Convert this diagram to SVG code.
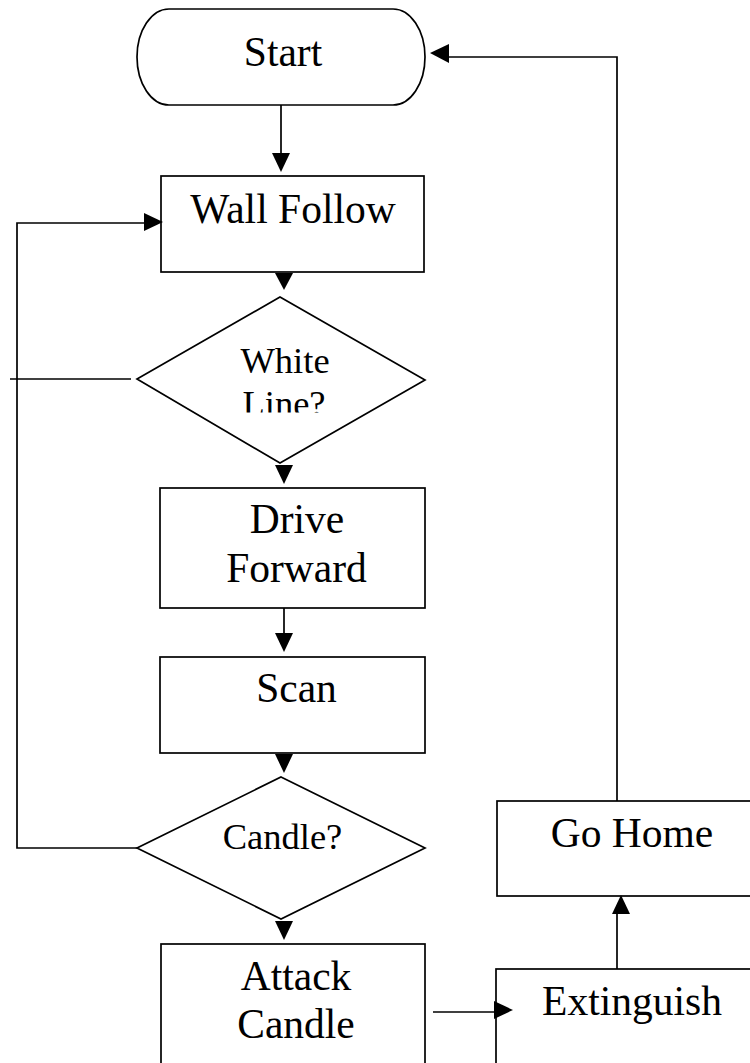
<svg xmlns="http://www.w3.org/2000/svg" width="750" height="1063" viewBox="0 0 750 1063">
<style>
.shape{fill:#fff;stroke:#000;stroke-width:1.7}
.line{fill:none;stroke:#000;stroke-width:1.7}
.ah{fill:#000;stroke:none}
.t{font-family:'Liberation Serif','Times New Roman',Times,'Nimbus Roman','DejaVu Serif','Noto Serif',serif;font-size:41.5px;fill:#000;text-anchor:middle}
.td{font-family:'Liberation Serif','Times New Roman',Times,'Nimbus Roman','DejaVu Serif','Noto Serif',serif;font-size:36.5px;fill:#000;text-anchor:middle}
</style>
<defs>
<clipPath id="clipLine"><rect x="0" y="0" width="750" height="412.5"/></clipPath>
</defs>
<rect width="750" height="1063" fill="#fff"/>
<g id="start">
<rect class="shape" x="137" y="9" width="288" height="96" rx="32" ry="48"/>
<text class="t" x="283" y="66">Start</text>
</g>
<g id="wall-follow">
<rect class="shape" x="161" y="176" width="263" height="96"/>
<text class="t" x="293" y="223">Wall Follow</text>
</g>
<g id="white-line">
<polygon class="shape" points="280,297 425,380 280,463 137,379"/>
<text class="td" x="285" y="373">White</text>
<text class="td" x="284" y="416" clip-path="url(#clipLine)">Line?</text>
</g>
<g id="drive-forward">
<rect class="shape" x="160" y="488" width="265" height="120"/>
<text class="t" x="297" y="533">Drive</text>
<text class="t" x="296.5" y="582">Forward</text>
</g>
<g id="scan">
<rect class="shape" x="160" y="657" width="265" height="96"/>
<text class="t" x="296.5" y="702">Scan</text>
</g>
<g id="candle">
<polygon class="shape" points="281,777 425,848 281,919 137,848"/>
<text class="td" x="282.5" y="849">Candle?</text>
</g>
<g id="attack-candle">
<rect class="shape" x="161" y="944" width="264" height="140"/>
<text class="t" x="296" y="990">Attack</text>
<text class="t" x="296" y="1038">Candle</text>
</g>
<g id="extinguish">
<rect class="shape" x="496" y="969" width="270" height="120"/>
<text class="t" x="632" y="1015">Extinguish</text>
</g>
<g id="go-home">
<rect class="shape" x="497" y="801" width="270" height="95"/>
<text class="t" x="632" y="847">Go Home</text>
</g>
<g id="connectors">
<line class="line" x1="281" y1="105" x2="281" y2="154"/>
<polygon class="ah" points="272,153 290,153 281,172"/>
<polygon class="ah" points="275,273 293,273 284,290"/>
<polygon class="ah" points="275,465 293,465 284,484"/>
<line class="line" x1="284" y1="608" x2="284" y2="634"/>
<polygon class="ah" points="275,633 293,633 284,652"/>
<polygon class="ah" points="275,754 293,754 284,773"/>
<polygon class="ah" points="275,921 293,921 284,940"/>
<polyline class="line" points="137,848 17,848 17,223 145,223"/>
<polygon class="ah" points="144,213 144,231 163,222"/>
<line class="line" x1="10" y1="379" x2="131" y2="379"/>
<line class="line" x1="433" y1="1012" x2="495" y2="1012"/>
<polygon class="ah" points="494,1001 494,1019 513,1010"/>
<line class="line" x1="617" y1="969" x2="617" y2="912"/>
<polygon class="ah" points="612,914 630,914 621,895"/>
<polyline class="line" points="617,801 617,57 448,57"/>
<polygon class="ah" points="449,44 449,63 430,53"/>
</g>
</svg>
